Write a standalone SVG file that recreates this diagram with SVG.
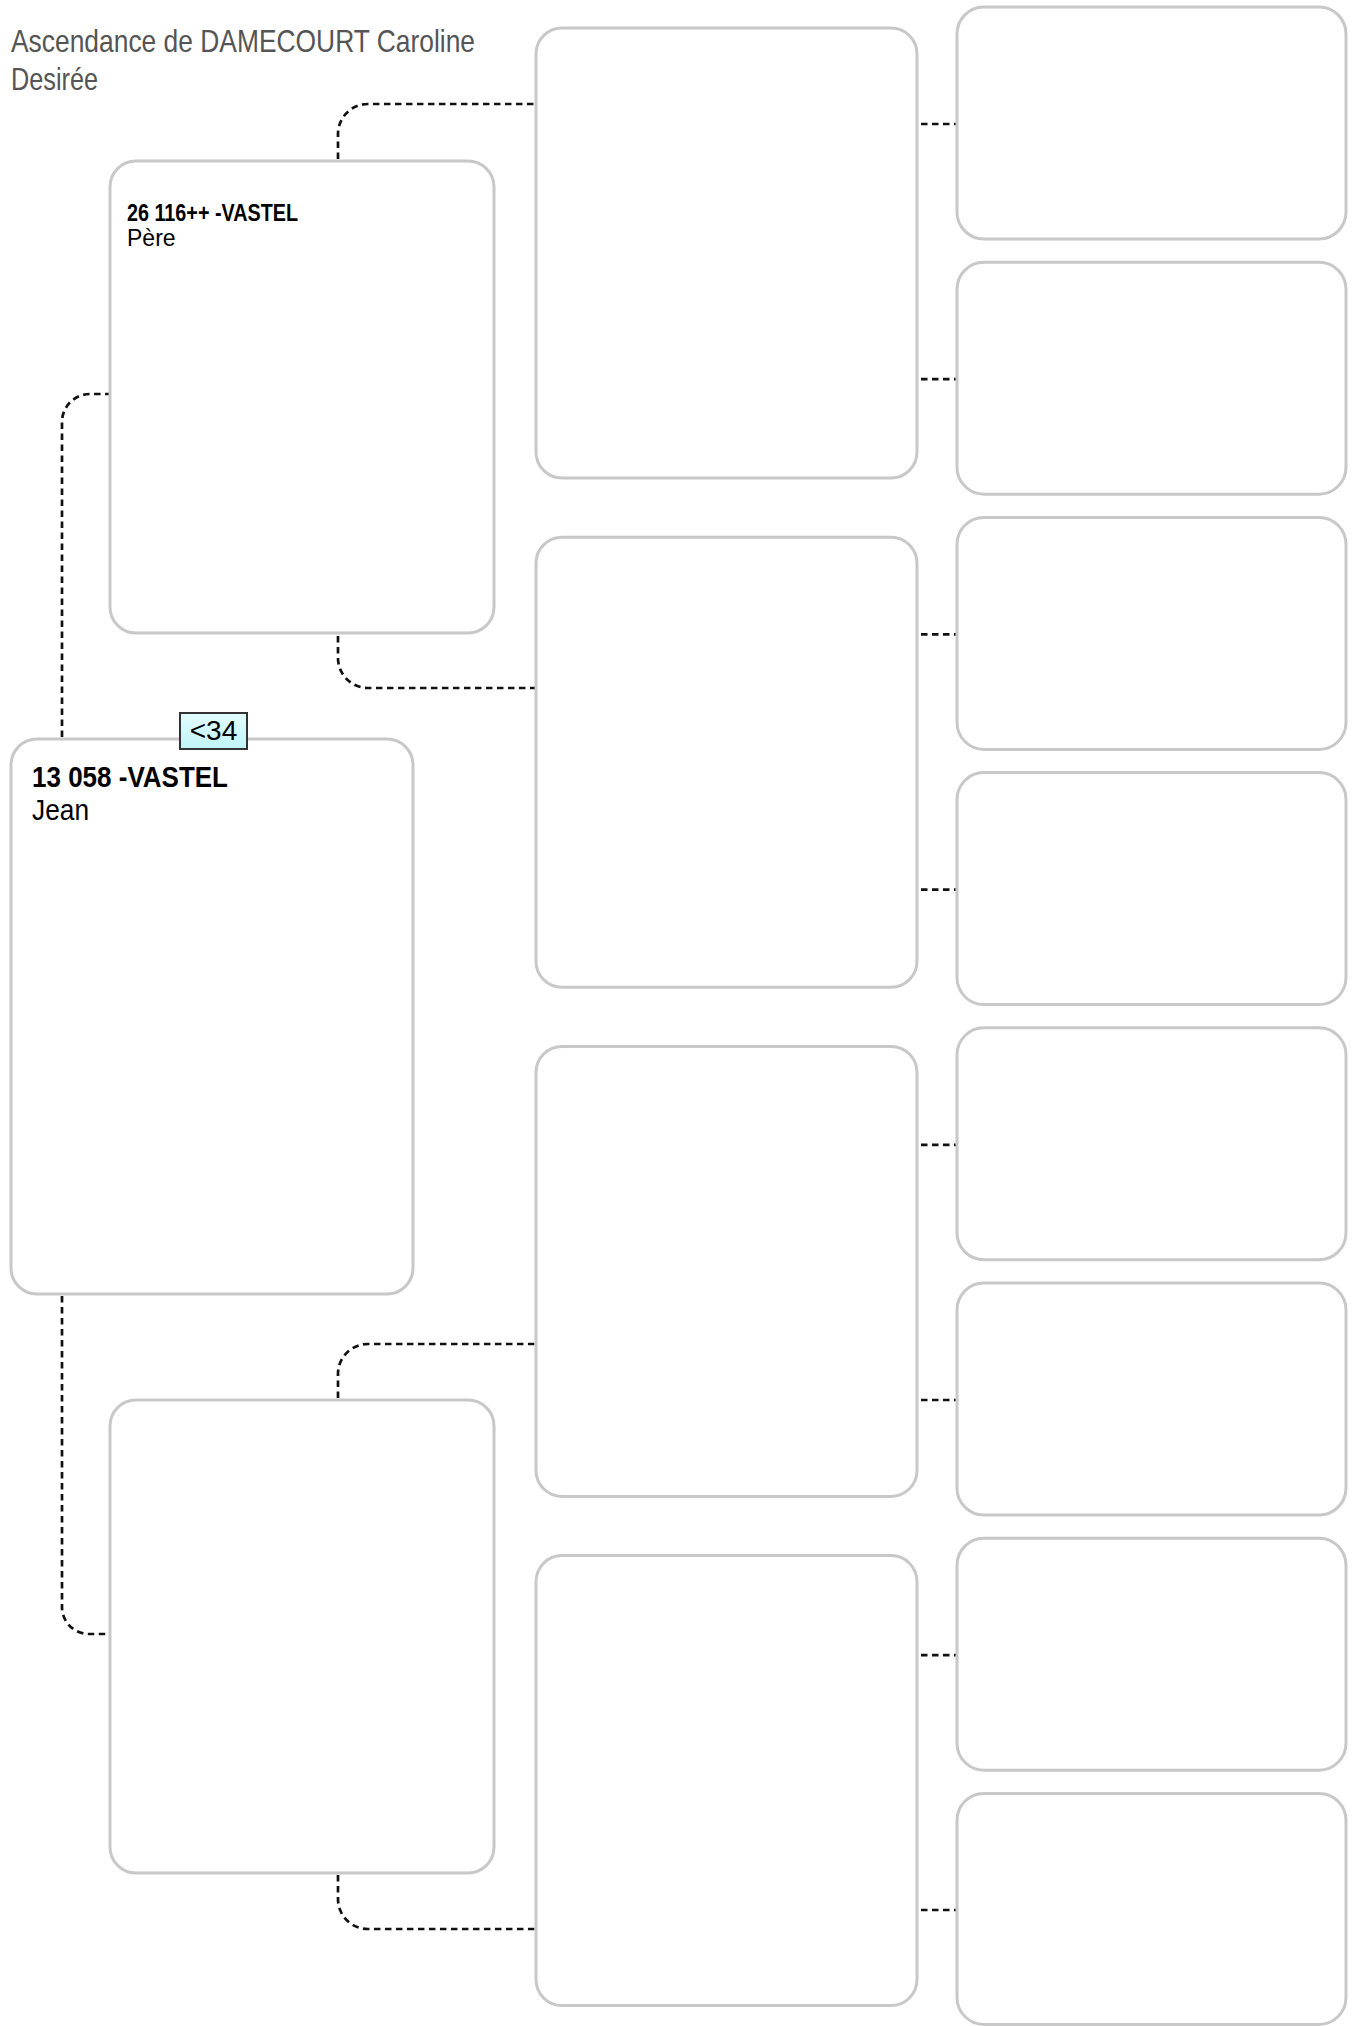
<svg xmlns="http://www.w3.org/2000/svg" width="1358" height="2026" viewBox="0 0 1358 2026">
<style>
.box{fill:#ffffff;stroke:#c8c8c8;stroke-width:3}
.link{fill:none;stroke:#111111;stroke-width:2.7;stroke-dasharray:6.5 4.5}
.title{font-family:"Liberation Sans Narrow","Liberation Sans",Arial,sans-serif;font-size:32px;fill:#555555}
.name{font-family:"Liberation Sans Narrow","Liberation Sans",Arial,sans-serif;font-weight:bold;fill:#000000}
.given{font-family:"Liberation Sans Narrow","Liberation Sans",Arial,sans-serif;fill:#000000}
.tag{fill:url(#cyan);stroke:#333333;stroke-width:2}
</style>
<defs>
<linearGradient id="cyan" x1="0" y1="0" x2="0" y2="1">
<stop offset="0" stop-color="#e4fdff"/>
<stop offset="1" stop-color="#bff4f8"/>
</linearGradient>
</defs>
<rect width="1358" height="2026" fill="#ffffff"/>
<g id="title">
<text class="title" x="11" y="52" textLength="464" lengthAdjust="spacingAndGlyphs">Ascendance de DAMECOURT Caroline</text>
<text class="title" x="11" y="90" textLength="87" lengthAdjust="spacingAndGlyphs">Desirée</text>
</g>
<g id="connectors">
<path class="link" d="M62,737 V422 A28,28 0 0 1 90,394 H110"/>
<path class="link" d="M62,1296 V1607 A27,27 0 0 0 89,1634 H110"/>
<path class="link" d="M338,159 V134 A30,30 0 0 1 368,104 H536"/>
<path class="link" d="M338,636 V658 A30,30 0 0 0 368,688 H536"/>
<path class="link" d="M338,1398 V1374 A30,30 0 0 1 368,1344 H536"/>
<path class="link" d="M338,1875 V1899 A30,30 0 0 0 368,1929 H536"/>
<path class="link" d="M921,124 H956"/>
<path class="link" d="M921,379.2 H956"/>
<path class="link" d="M921,634.4 H956"/>
<path class="link" d="M921,889.6 H956"/>
<path class="link" d="M921,1144.8 H956"/>
<path class="link" d="M921,1400 H956"/>
<path class="link" d="M921,1655.2 H956"/>
<path class="link" d="M921,1910 H956"/>
</g>
<g id="node-13058">
<rect class="box" x="11" y="739" width="402" height="555" rx="26"/>
<text class="name" x="32" y="787" font-size="30" textLength="196" lengthAdjust="spacingAndGlyphs">13 058 -VASTEL</text>
<text class="given" x="32" y="820" font-size="30" textLength="57" lengthAdjust="spacingAndGlyphs">Jean</text>
</g>
<g id="tag-34">
<rect class="tag" x="180" y="713" width="67" height="36"/>
<text class="given" x="213.5" y="739.5" font-size="28" text-anchor="middle">&lt;34</text>
</g>
<g id="node-26116">
<rect class="box" x="110" y="161" width="384" height="472" rx="26"/>
<text class="name" x="127" y="221" font-size="23" textLength="171" lengthAdjust="spacingAndGlyphs">26 116++ -VASTEL</text>
<text class="given" x="127" y="246" font-size="23">Père</text>
</g>
<g id="node-mother">
<rect class="box" x="110" y="1400" width="384" height="473" rx="26"/>
</g>
<g id="gen3">
<rect id="node-g3-1" class="box" x="536" y="28" width="381" height="450" rx="26"/>
<rect id="node-g3-2" class="box" x="536" y="537.2" width="381" height="450" rx="26"/>
<rect id="node-g3-3" class="box" x="536" y="1046.4" width="381" height="450" rx="26"/>
<rect id="node-g3-4" class="box" x="536" y="1555.6" width="381" height="450" rx="26"/>
</g>
<g id="gen4">
<rect id="node-g4-1" class="box" x="957" y="7" width="389" height="232" rx="27"/>
<rect id="node-g4-2" class="box" x="957" y="262.2" width="389" height="232" rx="27"/>
<rect id="node-g4-3" class="box" x="957" y="517.4" width="389" height="232" rx="27"/>
<rect id="node-g4-4" class="box" x="957" y="772.6" width="389" height="232" rx="27"/>
<rect id="node-g4-5" class="box" x="957" y="1027.8" width="389" height="232" rx="27"/>
<rect id="node-g4-6" class="box" x="957" y="1283" width="389" height="232" rx="27"/>
<rect id="node-g4-7" class="box" x="957" y="1538.2" width="389" height="232" rx="27"/>
<rect id="node-g4-8" class="box" x="957" y="1793.4" width="389" height="231" rx="27"/>
</g>
</svg>
